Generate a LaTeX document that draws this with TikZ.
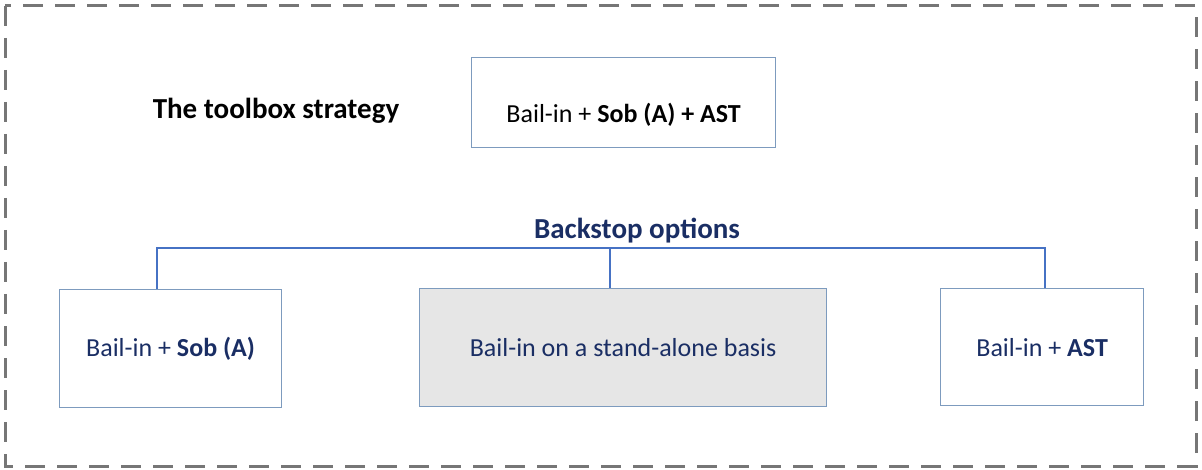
\documentclass[tikz,border=0pt]{standalone}
\usepackage{fontspec}
\setmainfont{Carlito}
\definecolor{frame}{RGB}{118,118,118}
\definecolor{boxline}{RGB}{125,155,190}
\definecolor{conncol}{RGB}{70,114,196}
\definecolor{navy}{RGB}{26,46,100}
\definecolor{greyfill}{RGB}{230,230,230}
\begin{document}
\begin{tikzpicture}[x=1pt,y=-1pt,
  optbox/.style={draw=boxline,line width=1.2pt,inner sep=0pt,anchor=north west,align=center},
  conn/.style={draw=conncol,line width=2pt},
  lbl/.style={font=\fontsize{26}{30}\selectfont},
  head/.style={font=\bfseries\fontsize{29}{34}\selectfont}]
\useasboundingbox (0,0) rectangle (1202,470);
\draw[frame,line width=3pt,dash pattern=on 20pt off 12pt] (5,6) rectangle (1196,466);
\node[optbox,minimum width=304pt,minimum height=90pt,text height=47pt,text depth=7pt,lbl] (T) at (471,57) {Bail-in + \textbf{Sob (A) + AST}};
\node[head] (title) at (276,111) {The toolbox strategy};
\node[head,text=navy] (bk) at (637,231) {Backstop options};
\node[optbox,minimum width=222pt,minimum height=118pt,lbl,text=navy] (L) at (59,289) {Bail-in + \textbf{Sob (A)}};
\node[optbox,fill=greyfill,minimum width=407pt,minimum height=118pt,lbl,text=navy] (M) at (419,288) {Bail-in on a stand-alone basis};
\node[optbox,minimum width=203pt,minimum height=117pt,lbl,text=navy] (R) at (940,288) {Bail-in + \textbf{AST}};
\coordinate (hl) at (157,248);
\coordinate (hm) at (610,248);
\coordinate (hr) at (1045,248);
\draw[conn] (hl |- L.north) -- (hl) -- (hr) -- (hr |- R.north);
\draw[conn] (hm) -- (hm |- M.north);
\end{tikzpicture}
\end{document}
